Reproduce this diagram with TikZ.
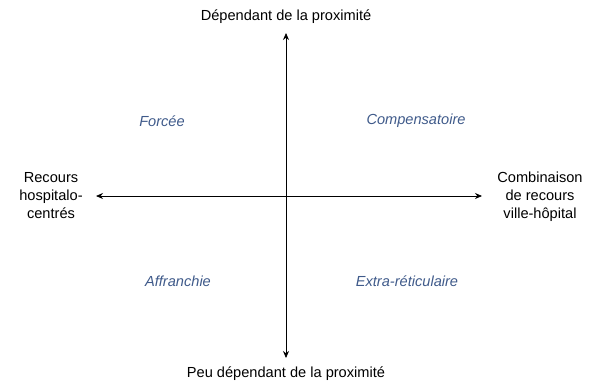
\documentclass[tikz,border=0pt]{standalone}
\usepackage{fontspec}
\setmainfont{Liberation Sans}
\usepackage{xcolor}
\usetikzlibrary{arrows.meta,positioning}
\definecolor{quadblue}{HTML}{3F5A8A}
\begin{document}
\begin{tikzpicture}[x=1pt,y=-1pt,font=\fontsize{14.6}{18}\selectfont,
  axis/.style={thick,{Stealth[length=7pt,width=6pt]}-{Stealth[length=7pt,width=6pt]}},
  quad/.style={text=quadblue,font=\fontsize{14.6}{18}\selectfont\itshape},
  pole/.style={align=center}]
\useasboundingbox (0,0) rectangle (589,383);
% axes
\coordinate (top) at (286,33);
\coordinate (bot) at (286,358);
\coordinate (lft) at (96,196);
\coordinate (rgt) at (482,196);
\draw[axis] (bot)--(top);
\draw[axis] (lft)--(rgt);
% poles
\node[above=6pt of top] (ptop){Dépendant de la proximité};
\node[below=5pt of bot] (pbot){Peu dépendant de la proximité};
\node[pole] (plft) at (51,196){Recours\\hospitalo-\\centrés};
\node[pole] (prgt) at (540,197){Combinaison\\de recours\\ville-hôpital};
% quadrants
\node[quad] (forcee) at (162,121){Forcée};
\node[quad] (compens) at (416,121){Compensatoire};
\node[quad] (affr) at (178,281){Affranchie};
\node[quad] (extra) at (407,281){Extra-réticulaire};
\end{tikzpicture}
\end{document}
